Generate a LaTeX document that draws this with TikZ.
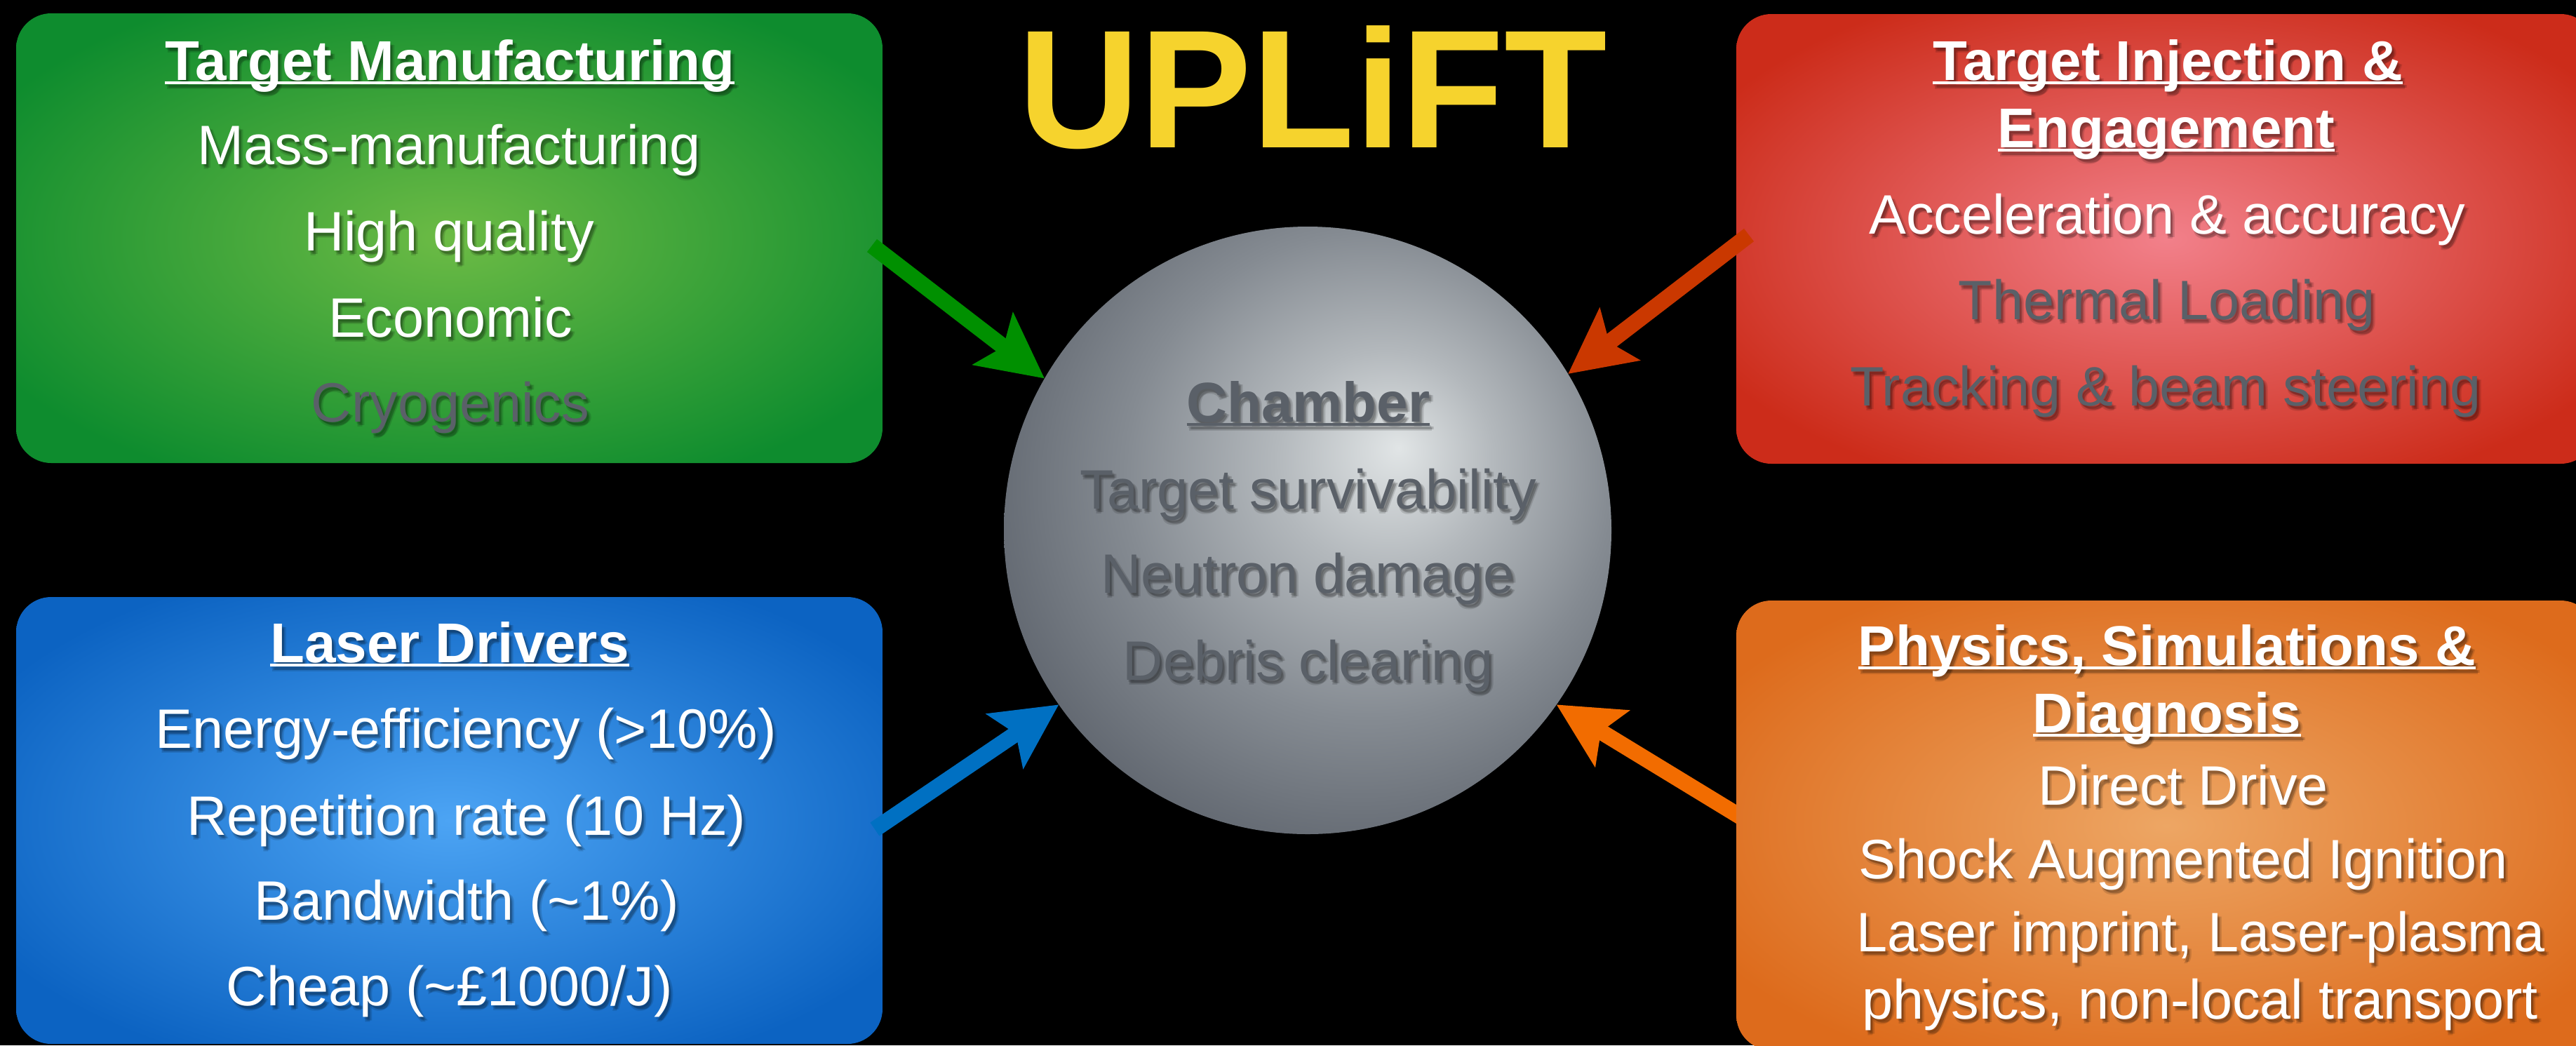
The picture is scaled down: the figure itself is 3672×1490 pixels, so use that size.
\documentclass[tikz,border=0pt]{standalone}
\usepackage{fontspec}
\setmainfont{Liberation Sans}
\usetikzlibrary{arrows.meta,calc}

% panel colours (edge / centre of the radial fill)
\definecolor{gEdge}{HTML}{0E8C2E}
\definecolor{gMid}{HTML}{6CBB45}
\definecolor{rEdge}{HTML}{CC2C1A}
\definecolor{rMid}{HTML}{F2808A}
\definecolor{bEdge}{HTML}{0C63C2}
\definecolor{bMid}{HTML}{4CA4F4}
\definecolor{oEdge}{HTML}{DD6B1C}
\definecolor{oMid}{HTML}{EDA664}
% arrow colours
\definecolor{gArrow}{HTML}{009000}
\definecolor{rArrow}{HTML}{CA3800}
\definecolor{bArrow}{HTML}{0070C2}
\definecolor{oArrow}{HTML}{F26C00}
% text colours
\definecolor{dim}{HTML}{5A6068}
\definecolor{titleyellow}{HTML}{F6D32D}
% sphere colours
\definecolor{sphA}{HTML}{E1E5E6}
\definecolor{sphB}{HTML}{B3B8BC}
\definecolor{sphC}{HTML}{858B92}
\definecolor{sphD}{HTML}{5D636C}

\pgfdeclareradialshading{sphere}{\pgfpoint{7.5bp}{6.8bp}}{%
  color(0bp)=(sphA); color(9bp)=(sphB); color(20bp)=(sphC);
  color(32bp)=(sphD); color(60bp)=(sphD)}

% soft radial fills for the four panels
\pgfdeclareradialshading{gfill}{\pgfpoint{0bp}{0bp}}{%
  color(0bp)=(gMid); color(30bp)=(gEdge); color(50bp)=(gEdge)}
\pgfdeclareradialshading{rfill}{\pgfpoint{0bp}{0bp}}{%
  color(0bp)=(rMid); color(30bp)=(rEdge); color(50bp)=(rEdge)}
\pgfdeclareradialshading{bfill}{\pgfpoint{0bp}{0bp}}{%
  color(0bp)=(bMid); color(30bp)=(bEdge); color(50bp)=(bEdge)}
\pgfdeclareradialshading{ofill}{\pgfpoint{0bp}{0bp}}{%
  color(0bp)=(oMid); color(30bp)=(oEdge); color(50bp)=(oEdge)}

\newsavebox\ulbox
\newcommand\ulin[1]{\sbox\ulbox{#1}\rlap{\usebox\ulbox}\rule[-1.6pt]{\wd\ulbox}{1pt}}

% one line of text with a soft drop shadow
\newcommand\putline[4]{%
  \foreach \dx/\dy [count=\k] in {2/3,4/5,3/7,6/5}{%
    \node[#1, text=black, opacity=0.12] (#2-s\k) at ($(#3)+(\dx,\dy)$) {#4};}%
  \node[#1] (#2) at (#3) {#4};}

\tikzset{
  panel/.style={rectangle, rounded corners=12.5pt, inner sep=0pt, outer sep=0pt,
    minimum width=308.75pt, minimum height=160.25pt},
  body/.style={font=\fontsize{19.8pt}{24pt}\selectfont, text=white, anchor=base, inner sep=0pt},
  dimbody/.style={body, text=dim},
  head/.style={font=\fontsize{20pt}{24pt}\selectfont\bfseries, text=white, anchor=base, inner sep=0pt},
  dimhead/.style={head, text=dim},
  feed/.style={line width=5.75pt,
    -{Stealth[length=23pt, width=23pt, inset=4.5pt]}},
}

\begin{document}
\begin{tikzpicture}[x=0.25pt, y=-0.25pt]
\useasboundingbox (0,0) rectangle (3672,1490);
\clip (0,0) rectangle (3672,1490);
\fill[black] (0,0) rectangle (3672,1490);

% reaction chamber
\node[circle, shading=sphere, inner sep=0pt, outer sep=0pt, minimum size=216.5pt]
  (chamber) at (1864,756) {};

% arrow tails
\coordinate (gTail) at (1243,350);
\coordinate (rTail) at (2493,335);
\coordinate (bTail) at (1247,1182);
\coordinate (oTail) at (2530,1194);

% the physics arrow runs underneath its panel
\draw[feed, oArrow] (oTail) -- (chamber.325);

% panels
\node[panel, shading=gfill] (manuf) at (640.5,339.5) {};
\node[panel, shading=rfill, minimum width=306.25pt] (inject) at (3087.5,340.5) {};
\node[panel, shading=bfill, minimum height=159.25pt] (laser) at (640.5,1169.5) {};
\node[panel, shading=ofill, minimum width=306.25pt] (phys) at (3087.5,1176.5) {};

% remaining arrows
\draw[feed, gArrow] (gTail) -- (chamber.150);
\draw[feed, rArrow] (rTail) -- (chamber.31);
\draw[feed, bArrow] (bTail) -- (chamber.215);

% title
\node[font=\fontsize{60pt}{72pt}\selectfont\bfseries, text=titleyellow, anchor=base,
  inner sep=0pt] (title) at (1871,210) {UPLiFT};

% Target Manufacturing
\putline{head}{m0}{641,114}{\ulin{Target Manufacturing}}
\putline{body}{m1}{640,234}{Mass-manufacturing}
\putline{body}{m2}{640,357}{High quality}
\putline{body}{m3}{642,480}{Economic}
\putline{dimbody}{m4}{642,601}{Cryogenics}

% Target Injection & Engagement
\putline{head}{i0}{3090,114}{\ulin{Target Injection \&}}
\putline{head}{i1}{3088,210}{\ulin{Engagement}}
\putline{body}{i2}{3089,333}{Acceleration \& accuracy}
\putline{dimbody}{i3}{3089,455}{Thermal Loading}
\putline{dimbody}{i4}{3087,578}{Tracking \& beam steering}

% Laser Drivers
\putline{head}{l0}{641,944}{\ulin{Laser Drivers}}
\putline{body}{l1}{664,1066}{Energy-efficiency (>10\%)}
\putline{body}{l2}{665,1190}{Repetition rate (10 Hz)}
\putline{body}{l3}{665,1311}{Bandwidth (\textasciitilde 1\%)}
\putline{body}{l4}{641,1433}{Cheap (\textasciitilde £1000/J)}

% Physics, Simulations & Diagnosis
\putline{head}{p0}{3089,948}{\ulin{Physics, Simulations \&}}
\putline{head}{p1}{3089,1044}{\ulin{Diagnosis}}
\putline{body}{p2}{3112,1147}{Direct Drive}
\putline{body}{p3}{3112,1252}{Shock Augmented Ignition}
\putline{body}{p4}{3137,1356}{Laser imprint, Laser-plasma}
\putline{body}{p5}{3136,1452}{physics, non-local transport}

% Chamber
\putline{dimhead}{c0}{1865,601}{\ulin{Chamber}}
\putline{dimbody}{c1}{1865,725}{Target survivability}
\putline{dimbody}{c2}{1864,845}{Neutron damage}
\putline{dimbody}{c3}{1865,969}{Debris clearing}
\end{tikzpicture}
\end{document}
